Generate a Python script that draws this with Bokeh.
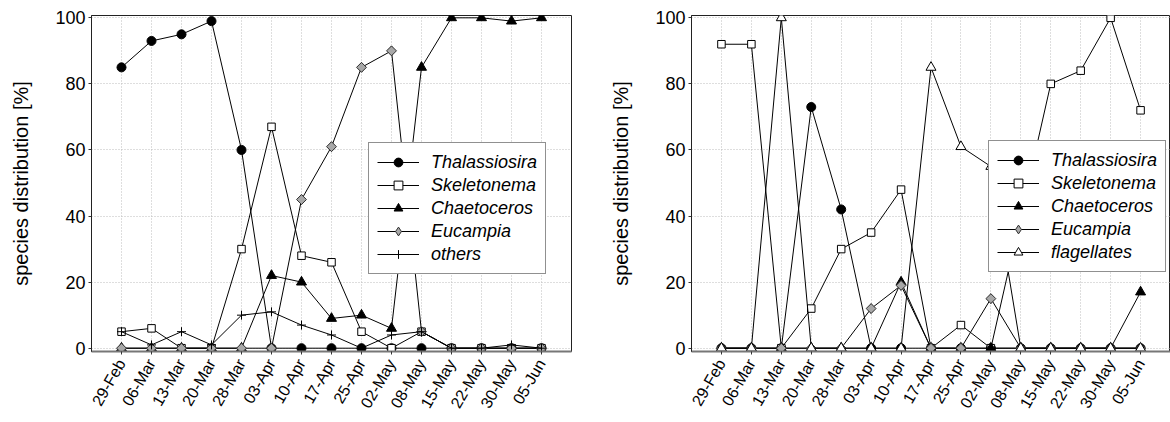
import numpy as np
from bokeh.plotting import figure
from bokeh.models import Range1d, FixedTicker, Legend, LegendItem
from bokeh.layouts import row
from bokeh.embed import file_html
from bokeh.resources import INLINE

# ---------------- data ----------------
dates = ["29-Feb", "06-Mar", "13-Mar", "20-Mar", "28-Mar", "03-Apr", "10-Apr",
         "17-Apr", "25-Apr", "02-May", "08-May", "15-May", "22-May", "30-May", "05-Jun"]
y_ticks = [0, 20, 40, 60, 80, 100]

left_thalassiosira = [85, 93, 95, 99, 60, 0, 0, 0, 0, 0, 0, 0, 0, 0, 0]
left_skeletonema = [5, 6, 0, 0, 30, 67, 28, 26, 5, 0, 5, 0, 0, 0, 0]
left_chaetoceros = [0, 0, 0, 0, 0, 22, 20, 9, 10, 6, 85, 100, 100, 99, 100]
left_eucampia = [0, 0, 0, 0, 0, 0, 45, 61, 85, 90, 5, 0, 0, 0, 0]
left_others = [5, 1, 5, 1, 10, 11, 7, 4, 0, 4, 5, 0, 0, 1, 0]

right_thalassiosira = [0, 0, 0, 73, 42, 0, 0, 0, 0, 0, 0, 0, 0, 0, 0]
right_skeletonema = [92, 92, 0, 12, 30, 35, 48, 0, 7, 0, 40, 80, 84, 100, 72]
right_chaetoceros = [0, 0, 0, 0, 0, 0, 20, 0, 0, 0, 0, 0, 0, 0, 17]
right_eucampia = [0, 0, 0, 0, 0, 12, 19, 0, 0, 15, 0, 0, 0, 0, 0]
right_flagellates = [0, 0, 100, 0, 0, 0, 0, 85, 61, 55, 0, 0, 0, 0, 0]

left_series = [("Thalassiosira", left_thalassiosira), ("Skeletonema", left_skeletonema),
               ("Chaetoceros", left_chaetoceros), ("Eucampia", left_eucampia),
               ("others", left_others)]
right_series = [("Thalassiosira", right_thalassiosira), ("Skeletonema", right_skeletonema),
                ("Chaetoceros", right_chaetoceros), ("Eucampia", right_eucampia),
                ("flagellates", right_flagellates)]

# ---------------- styles ----------------
FONT = "Liberation Sans"
GREY = "#a8a8a8"
STYLES = {
    "Thalassiosira": dict(marker="circle", size=9, fill_color="black", line_color="black"),
    "Skeletonema": dict(marker="square", size=7.5, fill_color="white", line_color="black"),
    "Chaetoceros": dict(marker="triangle", size=10, fill_color="black", line_color="black"),
    "Eucampia": dict(marker="square", size=7, fill_color=GREY, line_color="#303030",
                     angle=np.pi / 4),
    "others": dict(marker="cross", size=9, fill_color=None, line_color="black"),
    "flagellates": dict(marker="triangle", size=10, fill_color="white", line_color="black"),
}


def make_panel(series, width, frame_w, legend_x, legend_y):
    n = len(dates)
    p = figure(width=width, height=422, output_backend="svg", toolbar_location=None,
               x_range=Range1d(-1, n), y_range=Range1d(-1, 100.7),
               min_border_left=91, min_border_right=width - 91 - frame_w,
               min_border_top=15, min_border_bottom=71)
    p.background_fill_color = "white"
    p.border_fill_color = "white"
    p.outline_line_color = "#222222"
    p.outline_line_width = 1

    xs = list(range(n))
    items = []
    for name, vals in series:
        st = STYLES[name]
        lr = p.line(xs, vals, line_color="black", line_width=1)
        legend_rs = [lr]
        if name == "Eucampia":
            # plain diamond underneath (used as legend key, which ignores angles)
            dr = p.scatter(xs, vals, marker="diamond", size=9.5, fill_color=GREY,
                           line_color="#303030", line_width=1)
            legend_rs.append(dr)
        sr = p.scatter(xs, vals, line_width=1, **st)
        if name != "Eucampia":
            legend_rs.append(sr)
        items.append(LegendItem(label=name, renderers=legend_rs))

    # axes
    p.xaxis.ticker = FixedTicker(ticks=xs, minor_ticks=[])
    p.xaxis.major_label_overrides = {i: d for i, d in enumerate(dates)}
    p.xaxis.major_label_orientation = np.pi / 3
    p.yaxis.ticker = FixedTicker(ticks=y_ticks, minor_ticks=[])
    p.yaxis.axis_label = "species distribution [%]"
    p.yaxis.axis_label_text_font = FONT
    p.yaxis.axis_label_text_font_size = "20px"
    p.yaxis.axis_label_text_font_style = "normal"
    p.yaxis.axis_label_text_color = "black"
    p.yaxis.axis_label_standoff = 20
    p.axis.major_label_text_font = FONT
    p.axis.major_label_text_color = "black"
    p.yaxis.major_label_text_font_size = "18px"
    p.xaxis.major_label_text_font_size = "16px"
    p.axis.major_tick_in = 0
    p.axis.major_tick_out = 3
    p.axis.major_tick_line_color = "#333333"
    p.yaxis.major_label_standoff = 3
    p.xaxis.major_label_standoff = 6
    p.yaxis.axis_line_color = "#222222"
    p.xaxis.axis_line_color = "#777777"
    p.xaxis.axis_line_width = 2

    # grid
    for g in (p.xgrid, p.ygrid):
        g.grid_line_color = "#bdbdbd"
        g.grid_line_dash = "1 2"
        g.grid_line_width = 1
    p.xgrid.ticker = FixedTicker(ticks=xs)
    p.ygrid.ticker = FixedTicker(ticks=y_ticks)

    legend = Legend(items=items, location=(legend_x, legend_y))
    legend.label_text_font = FONT
    legend.label_text_font_size = "18px"
    legend.label_text_font_style = "italic"
    legend.label_text_color = "black"
    legend.glyph_width = 42
    legend.glyph_height = 22
    legend.label_height = 22
    legend.label_standoff = 12
    legend.spacing = 1
    legend.padding = 8
    legend.margin = 0
    legend.border_line_color = "#222222"
    legend.border_line_width = 1
    legend.background_fill_color = "white"
    legend.background_fill_alpha = 1.0
    p.add_layout(legend)
    return p


p1 = make_panel(left_series, 600, 480, 277, 77)
p2 = make_panel(right_series, 570, 479, 297, 79)

layout = row(p1, p2)
open("out.html", "w").write(file_html(layout, INLINE))
